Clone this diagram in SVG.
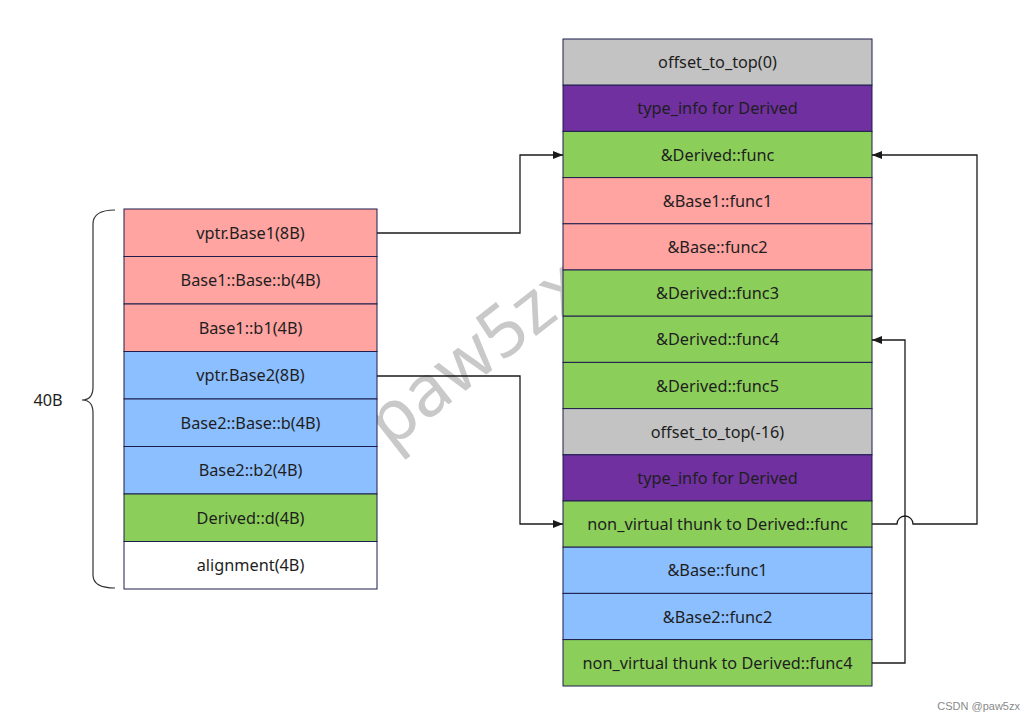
<svg xmlns="http://www.w3.org/2000/svg" width="1036" height="723" viewBox="0 0 1036 723">
<style>
.c{stroke:#1d1d4d;stroke-width:1}
.pk{fill:#ffa4a1}.bl{fill:#8cbfff}.gr{fill:#8bcf5a}.gy{fill:#c3c3c3}.pu{fill:#7030a0}.wh{fill:#ffffff}
.t{font-family:"Noto Sans","Open Sans","DejaVu Sans",sans-serif;font-size:16.3px;fill:#1e1e1e;text-anchor:middle;dominant-baseline:central}
.ln{fill:none;stroke:#1a1a1a;stroke-width:1.3}
</style>
<defs>
<marker id="ah" markerWidth="10" markerHeight="8" refX="10" refY="4" orient="auto" markerUnits="userSpaceOnUse">
<path d="M0,0 L10,4 L0,8 Z" fill="#1a1a1a"/>
</marker>
</defs>
<rect width="1036" height="723" fill="#ffffff"/>
<text x="390" y="450" transform="rotate(-38 390 450)" font-family="Noto Sans,Open Sans,sans-serif" font-size="72" fill="#c9c9c9">paw5zx</text>

<g id="left">
<g id="l1"><rect class="c pk" x="124" y="209" width="253" height="47.5"/><text class="t" x="250.5" y="232.75">vptr.Base1(8B)</text></g>
<g id="l2"><rect class="c pk" x="124" y="256.5" width="253" height="47.5"/><text class="t" x="250.5" y="280.25">Base1::Base::b(4B)</text></g>
<g id="l3"><rect class="c pk" x="124" y="304" width="253" height="47.5"/><text class="t" x="250.5" y="327.75">Base1::b1(4B)</text></g>
<g id="l4"><rect class="c bl" x="124" y="351.5" width="253" height="47.5"/><text class="t" x="250.5" y="375.25">vptr.Base2(8B)</text></g>
<g id="l5"><rect class="c bl" x="124" y="399" width="253" height="47.5"/><text class="t" x="250.5" y="422.75">Base2::Base::b(4B)</text></g>
<g id="l6"><rect class="c bl" x="124" y="446.5" width="253" height="47.5"/><text class="t" x="250.5" y="470.25">Base2::b2(4B)</text></g>
<g id="l7"><rect class="c gr" x="124" y="494" width="253" height="47.5"/><text class="t" x="250.5" y="517.75">Derived::d(4B)</text></g>
<g id="l8"><rect class="c wh" x="124" y="541.5" width="253" height="47.5"/><text class="t" x="250.5" y="565.25">alignment(4B)</text></g>
</g>

<g id="brace">
<path d="M115,210 Q93,210 93,224 L93,387 Q93,400 82,400 Q93,400 93,413 L93,575 Q93,588 115,588" fill="none" stroke="#333" stroke-width="1.2"/>
<text class="t" x="48" y="400">40B</text>
</g>

<g id="right">
<g id="r1"><rect class="c gy" x="563" y="39" width="309" height="46.2"/><text class="t" x="717.5" y="62.1">offset_to_top(0)</text></g>
<g id="r2"><rect class="c pu" x="563" y="85.2" width="309" height="46.2"/><text class="t" x="717.5" y="108.3">type_info for Derived</text></g>
<g id="r3"><rect class="c gr" x="563" y="131.4" width="309" height="46.2"/><text class="t" x="717.5" y="154.5">&amp;Derived::func</text></g>
<g id="r4"><rect class="c pk" x="563" y="177.6" width="309" height="46.2"/><text class="t" x="717.5" y="200.7">&amp;Base1::func1</text></g>
<g id="r5"><rect class="c pk" x="563" y="223.8" width="309" height="46.2"/><text class="t" x="717.5" y="246.9">&amp;Base::func2</text></g>
<g id="r6"><rect class="c gr" x="563" y="270" width="309" height="46.2"/><text class="t" x="717.5" y="293.1">&amp;Derived::func3</text></g>
<g id="r7"><rect class="c gr" x="563" y="316.2" width="309" height="46.2"/><text class="t" x="717.5" y="339.3">&amp;Derived::func4</text></g>
<g id="r8"><rect class="c gr" x="563" y="362.4" width="309" height="46.2"/><text class="t" x="717.5" y="385.5">&amp;Derived::func5</text></g>
<g id="r9"><rect class="c gy" x="563" y="408.6" width="309" height="46.2"/><text class="t" x="717.5" y="431.7">offset_to_top(-16)</text></g>
<g id="r10"><rect class="c pu" x="563" y="454.8" width="309" height="46.2"/><text class="t" x="717.5" y="477.9">type_info for Derived</text></g>
<g id="r11"><rect class="c gr" x="563" y="501" width="309" height="46.2"/><text class="t" x="717.5" y="524.1">non_virtual thunk to Derived::func</text></g>
<g id="r12"><rect class="c bl" x="563" y="547.2" width="309" height="46.2"/><text class="t" x="717.5" y="570.3">&amp;Base::func1</text></g>
<g id="r13"><rect class="c bl" x="563" y="593.4" width="309" height="46.2"/><text class="t" x="717.5" y="616.5">&amp;Base2::func2</text></g>
<g id="r14"><rect class="c gr" x="563" y="639.6" width="309" height="46.4"/><text class="t" x="717.5" y="662.8">non_virtual thunk to Derived::func4</text></g>
</g>

<g id="connectors">
<path class="ln" d="M377,233 L520,233 L520,155 L563,155" marker-end="url(#ah)"/>
<path class="ln" d="M377,376 L520,376 L520,524 L563,524" marker-end="url(#ah)"/>
<path class="ln" d="M872,524 L897,524 A8,8 0 0 1 913,524 L977,524 L977,155 L872,155" marker-end="url(#ah)"/>
<path class="ln" d="M872,663 L905,663 L905,340 L872,340" marker-end="url(#ah)"/>
</g>

<text x="1020" y="710" text-anchor="end" font-family="Liberation Sans,Arial,sans-serif" font-size="11" fill="#8a8a8a">CSDN @paw5zx</text>
</svg>
